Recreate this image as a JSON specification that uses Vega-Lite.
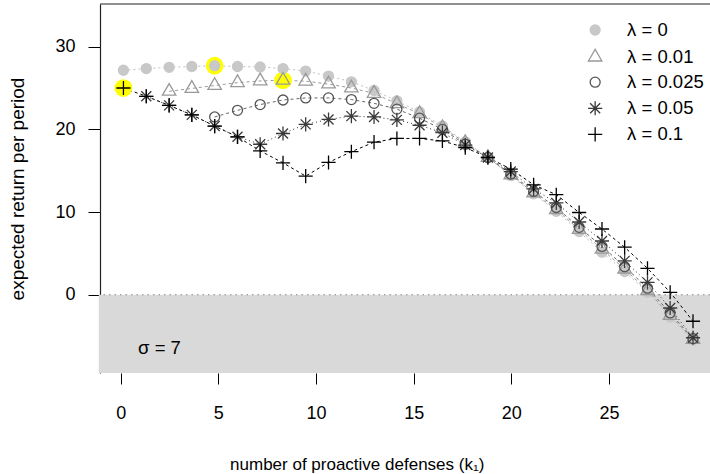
{
  "$schema": "https://vega.github.io/schema/vega-lite/v6.json",
  "width": 610,
  "height": 369,
  "autosize": {"type": "none"},
  "padding": {"left": 100, "top": 4, "right": 0, "bottom": 101},
  "background": "white",
  "config": {
    "font": "Liberation Sans",
    "view": {"stroke": null},
    "axis": {"grid": false, "tickColor": "#000000", "tickWidth": 1, "labelColor": "#000000", "titleColor": "#000000", "labelFont": "Liberation Sans", "titleFont": "Liberation Sans", "titleFontWeight": "normal", "labelFlush": false, "labelOverlap": false},
    "legend": {"labelFont": "Liberation Sans", "labelFontSize": 18.5, "labelColor": "#000000", "padding": 0, "labelOffset": 22.7, "rowPadding": 6.1, "symbolSize": 200, "symbolStrokeWidth": 1.3}
  },
  "datasets": {
    "pts": [
      {"lam": "λ = 0", "x": 0.14, "y": 27.15}, {"lam": "λ = 0", "x": 1.31, "y": 27.35}, {"lam": "λ = 0", "x": 2.48, "y": 27.5}, {"lam": "λ = 0", "x": 3.64, "y": 27.6}, {"lam": "λ = 0", "x": 4.81, "y": 27.7}, {"lam": "λ = 0", "x": 5.98, "y": 27.6}, {"lam": "λ = 0", "x": 7.14, "y": 27.55}, {"lam": "λ = 0", "x": 8.31, "y": 27.35}, {"lam": "λ = 0", "x": 9.47, "y": 27.05}, {"lam": "λ = 0", "x": 10.64, "y": 26.45}, {"lam": "λ = 0", "x": 11.81, "y": 25.75}, {"lam": "λ = 0", "x": 12.97, "y": 24.7}, {"lam": "λ = 0", "x": 14.14, "y": 23.45}, {"lam": "λ = 0", "x": 15.30, "y": 22.1}, {"lam": "λ = 0", "x": 16.47, "y": 20.4}, {"lam": "λ = 0", "x": 17.64, "y": 18.5}, {"lam": "λ = 0", "x": 18.80, "y": 16.6}, {"lam": "λ = 0", "x": 19.97, "y": 14.4}, {"lam": "λ = 0", "x": 21.14, "y": 12.2}, {"lam": "λ = 0", "x": 22.30, "y": 10.1}, {"lam": "λ = 0", "x": 23.47, "y": 7.65}, {"lam": "λ = 0", "x": 24.64, "y": 5.15}, {"lam": "λ = 0", "x": 25.80, "y": 2.8}, {"lam": "λ = 0", "x": 26.97, "y": 0.3}, {"lam": "λ = 0", "x": 28.13, "y": -2.7}, {"lam": "λ = 0", "x": 29.30, "y": -5.5},
      {"lam": "λ = 0.01", "x": 2.48, "y": 24.6}, {"lam": "λ = 0.01", "x": 3.64, "y": 24.95}, {"lam": "λ = 0.01", "x": 4.81, "y": 25.3}, {"lam": "λ = 0.01", "x": 5.98, "y": 25.65}, {"lam": "λ = 0.01", "x": 7.14, "y": 25.86}, {"lam": "λ = 0.01", "x": 8.31, "y": 25.94}, {"lam": "λ = 0.01", "x": 9.47, "y": 25.83}, {"lam": "λ = 0.01", "x": 10.64, "y": 25.48}, {"lam": "λ = 0.01", "x": 11.81, "y": 25.0}, {"lam": "λ = 0.01", "x": 12.97, "y": 24.35}, {"lam": "λ = 0.01", "x": 14.14, "y": 23.1}, {"lam": "λ = 0.01", "x": 15.30, "y": 21.9}, {"lam": "λ = 0.01", "x": 16.47, "y": 20.2}, {"lam": "λ = 0.01", "x": 17.64, "y": 18.4}, {"lam": "λ = 0.01", "x": 18.80, "y": 16.6}, {"lam": "λ = 0.01", "x": 19.97, "y": 14.5}, {"lam": "λ = 0.01", "x": 21.14, "y": 12.3}, {"lam": "λ = 0.01", "x": 22.30, "y": 10.3}, {"lam": "λ = 0.01", "x": 23.47, "y": 7.9}, {"lam": "λ = 0.01", "x": 24.64, "y": 5.5}, {"lam": "λ = 0.01", "x": 25.80, "y": 3.1}, {"lam": "λ = 0.01", "x": 26.97, "y": 0.5}, {"lam": "λ = 0.01", "x": 28.13, "y": -2.5}, {"lam": "λ = 0.01", "x": 29.30, "y": -5.4},
      {"lam": "λ = 0.025", "x": 4.81, "y": 21.5}, {"lam": "λ = 0.025", "x": 5.98, "y": 22.3}, {"lam": "λ = 0.025", "x": 7.14, "y": 23.0}, {"lam": "λ = 0.025", "x": 8.31, "y": 23.55}, {"lam": "λ = 0.025", "x": 9.47, "y": 23.8}, {"lam": "λ = 0.025", "x": 10.64, "y": 23.8}, {"lam": "λ = 0.025", "x": 11.81, "y": 23.6}, {"lam": "λ = 0.025", "x": 12.97, "y": 23.15}, {"lam": "λ = 0.025", "x": 14.14, "y": 22.45}, {"lam": "λ = 0.025", "x": 15.30, "y": 21.35}, {"lam": "λ = 0.025", "x": 16.47, "y": 20.0}, {"lam": "λ = 0.025", "x": 17.64, "y": 18.2}, {"lam": "λ = 0.025", "x": 18.80, "y": 16.6}, {"lam": "λ = 0.025", "x": 19.97, "y": 14.6}, {"lam": "λ = 0.025", "x": 21.14, "y": 12.5}, {"lam": "λ = 0.025", "x": 22.30, "y": 10.55}, {"lam": "λ = 0.025", "x": 23.47, "y": 8.15}, {"lam": "λ = 0.025", "x": 24.64, "y": 5.85}, {"lam": "λ = 0.025", "x": 25.80, "y": 3.4}, {"lam": "λ = 0.025", "x": 26.97, "y": 0.8}, {"lam": "λ = 0.025", "x": 28.13, "y": -2.2}, {"lam": "λ = 0.025", "x": 29.30, "y": -5.3},
      {"lam": "λ = 0.05", "x": 1.31, "y": 24.0}, {"lam": "λ = 0.05", "x": 2.48, "y": 22.9}, {"lam": "λ = 0.05", "x": 3.64, "y": 21.75}, {"lam": "λ = 0.05", "x": 4.81, "y": 20.4}, {"lam": "λ = 0.05", "x": 5.98, "y": 19.1}, {"lam": "λ = 0.05", "x": 7.14, "y": 18.2}, {"lam": "λ = 0.05", "x": 8.31, "y": 19.5}, {"lam": "λ = 0.05", "x": 9.47, "y": 20.6}, {"lam": "λ = 0.05", "x": 10.64, "y": 21.2}, {"lam": "λ = 0.05", "x": 11.81, "y": 21.6}, {"lam": "λ = 0.05", "x": 12.97, "y": 21.5}, {"lam": "λ = 0.05", "x": 14.14, "y": 21.15}, {"lam": "λ = 0.05", "x": 15.30, "y": 20.5}, {"lam": "λ = 0.05", "x": 16.47, "y": 19.6}, {"lam": "λ = 0.05", "x": 17.64, "y": 18.1}, {"lam": "λ = 0.05", "x": 18.80, "y": 16.6}, {"lam": "λ = 0.05", "x": 19.97, "y": 14.9}, {"lam": "λ = 0.05", "x": 21.14, "y": 12.8}, {"lam": "λ = 0.05", "x": 22.30, "y": 11.1}, {"lam": "λ = 0.05", "x": 23.47, "y": 8.8}, {"lam": "λ = 0.05", "x": 24.64, "y": 6.5}, {"lam": "λ = 0.05", "x": 25.80, "y": 4.1}, {"lam": "λ = 0.05", "x": 26.97, "y": 1.5}, {"lam": "λ = 0.05", "x": 28.13, "y": -1.6}, {"lam": "λ = 0.05", "x": 29.30, "y": -5.2},
      {"lam": "λ = 0.1", "x": 0.14, "y": 25.0}, {"lam": "λ = 0.1", "x": 1.31, "y": 24.0}, {"lam": "λ = 0.1", "x": 2.48, "y": 22.9}, {"lam": "λ = 0.1", "x": 3.64, "y": 21.75}, {"lam": "λ = 0.1", "x": 4.81, "y": 20.4}, {"lam": "λ = 0.1", "x": 5.98, "y": 19.1}, {"lam": "λ = 0.1", "x": 7.14, "y": 17.4}, {"lam": "λ = 0.1", "x": 8.31, "y": 15.95}, {"lam": "λ = 0.1", "x": 9.47, "y": 14.35}, {"lam": "λ = 0.1", "x": 10.64, "y": 16.0}, {"lam": "λ = 0.1", "x": 11.81, "y": 17.3}, {"lam": "λ = 0.1", "x": 12.97, "y": 18.45}, {"lam": "λ = 0.1", "x": 14.14, "y": 18.9}, {"lam": "λ = 0.1", "x": 15.30, "y": 18.9}, {"lam": "λ = 0.1", "x": 16.47, "y": 18.6}, {"lam": "λ = 0.1", "x": 17.64, "y": 17.8}, {"lam": "λ = 0.1", "x": 18.80, "y": 16.6}, {"lam": "λ = 0.1", "x": 19.97, "y": 15.2}, {"lam": "λ = 0.1", "x": 21.14, "y": 13.3}, {"lam": "λ = 0.1", "x": 22.30, "y": 12.1}, {"lam": "λ = 0.1", "x": 23.47, "y": 9.95}, {"lam": "λ = 0.1", "x": 24.64, "y": 7.95}, {"lam": "λ = 0.1", "x": 25.80, "y": 5.75}, {"lam": "λ = 0.1", "x": 26.97, "y": 3.2}, {"lam": "λ = 0.1", "x": 28.13, "y": 0.3}, {"lam": "λ = 0.1", "x": 29.30, "y": -3.2}
    ],
    "hl": [
      {"x": 0.14, "y": 25.0}, {"x": 4.81, "y": 27.7}, {"x": 8.31, "y": 25.94}
    ]
  },
  "data": {"name": "pts"},
  "layer": [
    {
      "data": {"values": [{}]},
      "mark": {"type": "rect", "fill": "#d9d9d9"},
      "encoding": {
        "x": {"datum": -1.12, "type": "quantitative",
          "scale": {"domain": [-1.06, 30.17], "nice": false, "zero": false},
          "axis": {"domain": false, "values": [0, 5, 10, 15, 20, 25], "tickSize": 11, "labelPadding": 20, "labelFontSize": 18, "title": "number of proactive defenses (k₁)", "titleFontSize": 17, "titleX": 256.7, "titleY": 96, "titleBaseline": "alphabetic", "titleAlign": "center"}},
        "x2": {"datum": 31.5},
        "y": {"datum": 0, "type": "quantitative",
          "scale": {"domain": [-9.46, 35.16], "nice": false, "zero": false},
          "axis": {"domain": true, "domainColor": "#222222", "domainWidth": 1.2, "values": [0, 10, 20, 30], "tickSize": 12, "labelPadding": 13, "labelFontSize": 18, "title": "expected return per period", "titleFontSize": 19, "titleX": -83, "titleY": 184.5, "titleAngle": -90, "titleBaseline": "middle", "titleAlign": "center"}},
        "y2": {"datum": -9.46}
      }
    },
    {
      "data": {"values": [{}]},
      "mark": {"type": "rule", "stroke": "#222222", "strokeWidth": 1.2},
      "encoding": {"y": {"datum": 35.16, "type": "quantitative"}}
    },
    {
      "data": {"values": [{}]},
      "mark": {"type": "rule", "stroke": "#888888", "strokeDash": [1.5, 4], "strokeWidth": 1},
      "encoding": {"y": {"datum": 0, "type": "quantitative"}}
    },
    {
      "transform": [{"filter": {"field": "lam", "equal": "λ = 0"}}],
      "mark": {"type": "line", "stroke": "#c0c0c0", "strokeDash": [2, 3], "strokeWidth": 1},
      "encoding": {"x": {"field": "x", "type": "quantitative"}, "y": {"field": "y", "type": "quantitative"}}
    },
    {
      "transform": [{"filter": {"field": "lam", "equal": "λ = 0.01"}}],
      "mark": {"type": "line", "stroke": "#9a9a9a", "strokeDash": [3, 3], "strokeWidth": 1},
      "encoding": {"x": {"field": "x", "type": "quantitative"}, "y": {"field": "y", "type": "quantitative"}}
    },
    {
      "transform": [{"filter": {"field": "lam", "equal": "λ = 0.025"}}],
      "mark": {"type": "line", "stroke": "#666666", "strokeDash": [3, 3], "strokeWidth": 1},
      "encoding": {"x": {"field": "x", "type": "quantitative"}, "y": {"field": "y", "type": "quantitative"}}
    },
    {
      "transform": [{"filter": {"field": "lam", "equal": "λ = 0.05"}}],
      "mark": {"type": "line", "stroke": "#333333", "strokeDash": [1, 3], "strokeWidth": 1},
      "encoding": {"x": {"field": "x", "type": "quantitative"}, "y": {"field": "y", "type": "quantitative"}}
    },
    {
      "transform": [{"filter": {"field": "lam", "equal": "λ = 0.1"}}],
      "mark": {"type": "line", "stroke": "#000000", "strokeDash": [3, 3], "strokeWidth": 1},
      "encoding": {"x": {"field": "x", "type": "quantitative"}, "y": {"field": "y", "type": "quantitative"}}
    },
    {
      "data": {"name": "hl"},
      "mark": {"type": "circle", "fill": "#ffff00", "size": 314, "opacity": 1},
      "encoding": {"x": {"field": "x", "type": "quantitative"}, "y": {"field": "y", "type": "quantitative"}}
    },
    {
      "mark": {"type": "point", "opacity": 1, "strokeWidth": 1.3, "size": 200},
      "encoding": {
        "x": {"field": "x", "type": "quantitative"},
        "y": {"field": "y", "type": "quantitative"},
        "shape": {"field": "lam", "type": "nominal",
          "scale": {"domain": ["λ = 0", "λ = 0.01", "λ = 0.025", "λ = 0.05", "λ = 0.1"],
            "range": ["M-0.707,0A0.707,0.707,0,1,1,0.707,0A0.707,0.707,0,1,1,-0.707,0Z", "M0,-1.1L0.952,0.55L-0.952,0.55Z", "M-0.707,0A0.707,0.707,0,1,1,0.707,0A0.707,0.707,0,1,1,-0.707,0Z", "M-1,0L1,0M0,-1L0,1M-0.707,-0.707L0.707,0.707M-0.707,0.707L0.707,-0.707", "M-1,0L1,0M0,-1L0,1"]},
          "legend": {"orient": "none", "legendX": 485.9, "legendY": 16.75, "title": null}},
        "fill": {"field": "lam", "type": "nominal",
          "scale": {"domain": ["λ = 0", "λ = 0.01", "λ = 0.025", "λ = 0.05", "λ = 0.1"],
            "range": ["#c8c8c8", "transparent", "transparent", "transparent", "transparent"]},
          "legend": {"orient": "none", "legendX": 485.9, "legendY": 16.75, "title": null}},
        "stroke": {"field": "lam", "type": "nominal",
          "scale": {"domain": ["λ = 0", "λ = 0.01", "λ = 0.025", "λ = 0.05", "λ = 0.1"],
            "range": ["#c8c8c8", "#999999", "#555555", "#3a3a3a", "#000000"]},
          "legend": {"orient": "none", "legendX": 485.9, "legendY": 16.75, "title": null}}
      }
    },
    {
      "data": {"values": [{}]},
      "mark": {"type": "text", "text": "σ = 7", "align": "left", "baseline": "middle", "fontSize": 18.5, "font": "Liberation Sans", "color": "#000000"},
      "encoding": {"x": {"datum": 0.89, "type": "quantitative"}, "y": {"datum": -6.44, "type": "quantitative"}}
    }
  ]
}
